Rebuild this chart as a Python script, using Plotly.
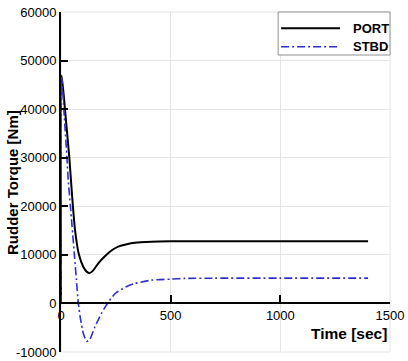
import plotly.graph_objects as go

# ---- data ----
port_t = [0, 3, 20, 38, 50, 64, 82, 102, 118, 130, 145, 170, 200, 230, 261, 300, 337, 413, 500, 565, 700, 900, 1100, 1400]
port_y = [0, 47000, 39000, 30000, 22500, 15100, 10000, 7500, 6500, 6250, 6700, 8250, 9700, 10900, 11700, 12200, 12500, 12700, 12780, 12800, 12800, 12800, 12800, 12800]

stbd_t = [0, 3, 15, 27, 33, 43, 61, 70, 79, 90, 102, 117, 130, 155, 185, 216, 246, 261, 300, 337, 413, 500, 565, 700, 1000, 1400]
stbd_y = [0, 46500, 38500, 30000, 25400, 20000, 10000, 5000, 0, -3500, -6200, -7800, -7500, -4800, -2000, 300, 2000, 2500, 3500, 4100, 4800, 5000, 5150, 5200, 5200, 5200]

x_ticks = [0, 500, 1000, 1500]
x_tick_labels = ["0", "500", "1000", "1500"]
y_ticks = [-10000, 0, 10000, 20000, 30000, 40000, 50000, 60000]
y_tick_labels = ["-10000", "0", "10000", "20000", "30000", "40000", "50000", "60000"]

series_names = ["PORT", "STBD"]
x_title = "Time [sec]"
y_title = "Rudder Torque [Nm]"

FONT = "Liberation Sans, Arial, sans-serif"
Y_MIN, Y_MAX = -10000, 60000
zero_pos = (0 - Y_MIN) / (Y_MAX - Y_MIN)

fig = go.Figure()
fig.add_trace(go.Scatter(x=port_t, y=port_y, mode="lines", name=series_names[0],
                         line=dict(color="black", width=2, shape="spline", smoothing=0.6),
                         showlegend=False))
fig.add_trace(go.Scatter(x=stbd_t, y=stbd_y, mode="lines", name=series_names[1],
                         line=dict(color="#3030d0", width=1.6, dash="8px,3px,2px,3px",
                                   shape="spline", smoothing=0.6),
                         showlegend=False))

fig.update_layout(
    width=408, height=361,
    margin=dict(l=61, r=18, t=12, b=9, autoexpand=False),
    paper_bgcolor="white", plot_bgcolor="white",
    font=dict(family=FONT, size=13, color="black"),
    xaxis=dict(range=[0, 1500], tickvals=x_ticks, ticktext=x_tick_labels,
               anchor="free", position=zero_pos, automargin=False,
               showline=True, linecolor="black", linewidth=2,
               ticks="inside", ticklen=7, tickwidth=2, tickcolor="black",
               showgrid=True, gridcolor="#e4e4e4", gridwidth=1,
               zeroline=False, tickfont=dict(size=13)),
    yaxis=dict(range=[Y_MIN, Y_MAX], tickvals=y_ticks, ticktext=y_tick_labels,
               automargin=False,
               showline=True, linecolor="black", linewidth=2,
               ticks="inside", ticklen=7, tickwidth=2, tickcolor="black",
               showgrid=True, gridcolor="#e4e4e4", gridwidth=1,
               zeroline=False, tickfont=dict(size=13)),
)

# light frame on top / right / bottom
fig.add_shape(type="rect", xref="paper", yref="paper", x0=0, x1=1, y0=0, y1=1,
              line=dict(color="#e4e4e4", width=1), layer="below")

# axis titles
fig.add_annotation(text=f"<b>{y_title}</b>", xref="paper", yref="paper",
                   x=-0.149, y=0.5, xanchor="center", yanchor="middle",
                   textangle=-90, showarrow=False, font=dict(size=15, family=FONT))
fig.add_annotation(text=f"<b>{x_title}</b>", xref="paper", yref="paper",
                   x=0.997, y=0.053, xanchor="right", yanchor="middle",
                   showarrow=False, font=dict(size=15.5, family=FONT))

# manual legend
fig.add_shape(type="rect", xref="paper", yref="paper", x0=0.66, x1=1.0, y0=0.8735, y1=1.0,
              line=dict(color="#909090", width=1), fillcolor="white", layer="above")
fig.add_shape(type="line", xref="paper", yref="paper", x0=0.669, x1=0.848, y0=0.952, y1=0.952,
              line=dict(color="black", width=2))
fig.add_shape(type="line", xref="paper", yref="paper", x0=0.669, x1=0.848, y0=0.898, y1=0.898,
              line=dict(color="#3030d0", width=1.6, dash="8px,3px,2px,3px"))
fig.add_annotation(text=f"<b>{series_names[0]}</b>", xref="paper", yref="paper",
                   x=0.881, y=0.952, xanchor="left", yanchor="middle",
                   showarrow=False, font=dict(size=13, family=FONT))
fig.add_annotation(text=f"<b>{series_names[1]}</b>", xref="paper", yref="paper",
                   x=0.881, y=0.898, xanchor="left", yanchor="middle",
                   showarrow=False, font=dict(size=13, family=FONT))

fig.write_html("out.html")
